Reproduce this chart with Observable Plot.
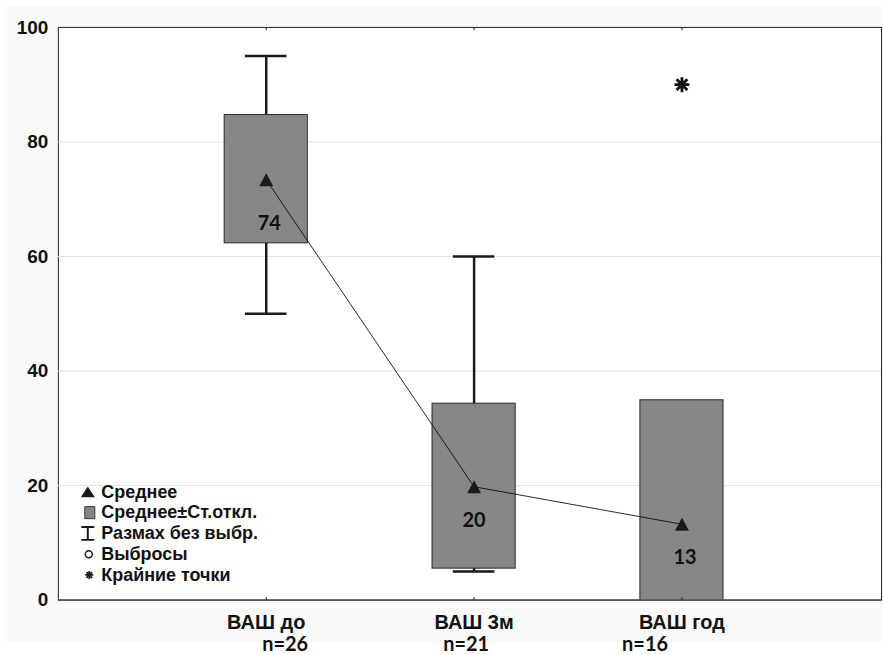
<!DOCTYPE html>
<html><head><meta charset="utf-8">
<script src="https://cdn.jsdelivr.net/npm/d3@7"></script>
<script src="https://cdn.jsdelivr.net/npm/@observablehq/plot@0.6"></script>
<style>
html,body{margin:0;padding:0;background:#fff;}
#chart{position:relative;width:883px;height:655px;overflow:hidden;background:#fff;}
#bg{position:absolute;left:6px;top:6px;width:877px;height:636px;background:#f9f9f9;}
#chart svg{position:absolute;left:0;top:0;overflow:visible;}
</style></head><body><div id="chart"><div id="bg"></div></div>
<script>
// ---- data ----
const categories = ["ВАШ до", "ВАШ 3м", "ВАШ год"];
const nLabels = ["n=26", "n=21", "n=16"];
const means = [73.4, 19.8, 13.25];
const meanLabels = ["74", "20", "13"];
const sdLow = [62.3, 5.5, -8.4];
const sdHigh = [84.7, 34.3, 34.9];
const rangeMin = [50, 5, null];
const rangeMax = [95, 60, null];
const extremeCategories = ["ВАШ год"];
const extremeValues = [90];
const yTicks = [0, 20, 40, 60, 80, 100];
const gridValues = [20, 40, 60, 80];
const legendLabels = ["Среднее", "Среднее±Ст.откл.", "Размах без выбр.", "Выбросы", "Крайние точки"];

// ---- styles ----
const nDx = [19, -8, -37];
const meanLabelDx = [3, 0, 3];
const meanLabelDy = [44, 34, 33];
const boxFill = "#878787";
const dark = "#1a1a1a";
const arial = "Liberation Sans, Arial, sans-serif";
const calib = "Lato, Open Sans, sans-serif";

const rows = categories.map((c, i) => ({
  cat: c, i: i + 1, n: nLabels[i], mean: means[i], label: meanLabels[i],
  lo: sdLow[i], hi: sdHigh[i], min: rangeMin[i], max: rangeMax[i]
}));
const extremes = extremeCategories.map((c, k) => ({i: categories.indexOf(c) + 1, v: extremeValues[k]}));
const whiskers = rows.filter(d => d.min != null);

// custom symbols
const tri = (w, h) => ({draw(ctx) { ctx.moveTo(0, -h / 2); ctx.lineTo(w / 2, h / 2); ctx.lineTo(-w / 2, h / 2); ctx.closePath(); }});
const star = (a) => ({draw(ctx) {
  ctx.moveTo(-a, 0); ctx.lineTo(a, 0); ctx.moveTo(0, -a); ctx.lineTo(0, a);
  const b = a * 0.72; ctx.moveTo(-b, -b); ctx.lineTo(b, b); ctx.moveTo(-b, b); ctx.lineTo(b, -b);
}});
const ibeam = {draw(ctx) { ctx.moveTo(-6.5, -6.5); ctx.lineTo(6.5, -6.5); ctx.moveTo(0, -6.5); ctx.lineTo(0, 6.5); ctx.moveTo(-6.5, 6.5); ctx.lineTo(6.5, 6.5); }};
const tickUp = {draw(ctx) { ctx.moveTo(0, 0); ctx.lineTo(0, -3); }};
const tickDown = {draw(ctx) { ctx.moveTo(0, 0); ctx.lineTo(0, 3); }};
const sq = {draw(ctx) { ctx.rect(-5, -6, 10, 12); }};

const legendY = (k) => -108.5 + k * 20.8;
const legendRows = legendLabels.map((t, k) => ({t, k}));

const marks = [
  Plot.frame({fill: "white", stroke: "#222", strokeWidth: 1}),
  Plot.ruleY(gridValues, {stroke: "#e4e4e4", strokeWidth: 1}),
  // whiskers
  Plot.ruleX(whiskers, {x: "i", y1: "min", y2: "max", stroke: dark, strokeWidth: 2.5}),
  Plot.ruleY(whiskers, {y: "max", x1: d => d.i - 0.1, x2: d => d.i + 0.1, stroke: dark, strokeWidth: 2.5}),
  Plot.ruleY(whiskers, {y: "min", x1: d => d.i - 0.1, x2: d => d.i + 0.1, stroke: dark, strokeWidth: 2.5}),
  // boxes
  Plot.rect(rows, {x1: d => d.i - 0.2, x2: d => d.i + 0.2, y1: "lo", y2: "hi", fill: boxFill, stroke: "#2a2a2a", strokeWidth: 1, clip: true}),
  Plot.ruleY([0], {stroke: "#555", strokeWidth: 1.6}),
  // mean line + markers
  Plot.line(rows, {x: "i", y: "mean", stroke: "#111", strokeWidth: 0.9}),
  Plot.dot(rows, {x: "i", y: "mean", symbol: tri(14, 13), fill: dark, stroke: "none", r: 6}),
  // extremes
  Plot.dot(extremes, {x: "i", y: "v", symbol: star(7.5), stroke: "#111", strokeWidth: 2.8, r: 7}),
  // inside labels
  ...rows.map((d, k) => Plot.text([d], {x: "i", y: "mean", text: "label", dx: meanLabelDx[k], dy: meanLabelDy[k],
    fontFamily: calib, fontWeight: "bold", fontSize: 20, fill: "#111"})),
  // ticks on frame
  Plot.dot(rows, {x: "i", frameAnchor: "bottom", symbol: tickUp, stroke: "#222", strokeWidth: 1, r: 3}),
  Plot.dot(rows, {x: "i", frameAnchor: "top", symbol: tickDown, stroke: "#222", strokeWidth: 1, r: 3}),
  // x labels
  Plot.text(rows, {x: "i", text: "cat", frameAnchor: "bottom", lineAnchor: "middle", dy: 23, fontFamily: arial, fontWeight: "bold", fontSize: 20, fill: "#111"}),
  ...rows.map((d, k) => Plot.text([d], {x: "i", text: "n", frameAnchor: "bottom", lineAnchor: "middle", dy: 45, dx: nDx[k],
    fontFamily: calib, fontWeight: "bold", fontSize: 20, fill: "#111"})),
  // y axis
  Plot.axisY({ticks: yTicks, tickSize: 0, tickPadding: 10, fontFamily: arial, fontWeight: "bold", fontSize: 19, fill: "#111"}),
  // legend symbols
  Plot.dot([0], {frameAnchor: "bottom-left", dx: 87.5 - 58, dy: legendY(0), symbol: tri(14, 11), fill: dark, stroke: "none", r: 6}),
  Plot.dot([0], {frameAnchor: "bottom-left", dx: 89.5 - 58, dy: legendY(1), symbol: sq, fill: boxFill, stroke: "#333", strokeWidth: 1, r: 6}),
  Plot.dot([0], {frameAnchor: "bottom-left", dx: 87.5 - 58, dy: legendY(2), symbol: ibeam, stroke: dark, strokeWidth: 2, fill: "none", r: 6}),
  Plot.dot([0], {frameAnchor: "bottom-left", dx: 88.5 - 58, dy: legendY(3), symbol: "circle", stroke: dark, strokeWidth: 1.5, fill: "white", r: 3.5}),
  Plot.dot([0], {frameAnchor: "bottom-left", dx: 89 - 58, dy: legendY(4), symbol: star(4), stroke: dark, strokeWidth: 1.8, r: 4})
];

// legend text
legendRows.forEach(d => marks.push(Plot.text([d], {frameAnchor: "bottom-left", lineAnchor: "middle", dx: 101 - 58, dy: legendY(d.k), text: "t",
  fontFamily: arial, fontWeight: "bold", fontSize: 18, fill: "#111", textAnchor: "start"})));

const chart = Plot.plot({
  width: 885, height: 655,
  marginLeft: 58, marginRight: 2, marginTop: 27, marginBottom: 54,
  style: {background: "transparent", fontFamily: arial},
  x: {type: "linear", domain: [0, 3.96], axis: null},
  y: {domain: [0, 100], axis: null},
  marks
});
document.getElementById("chart").appendChild(chart);
</script></body></html>
